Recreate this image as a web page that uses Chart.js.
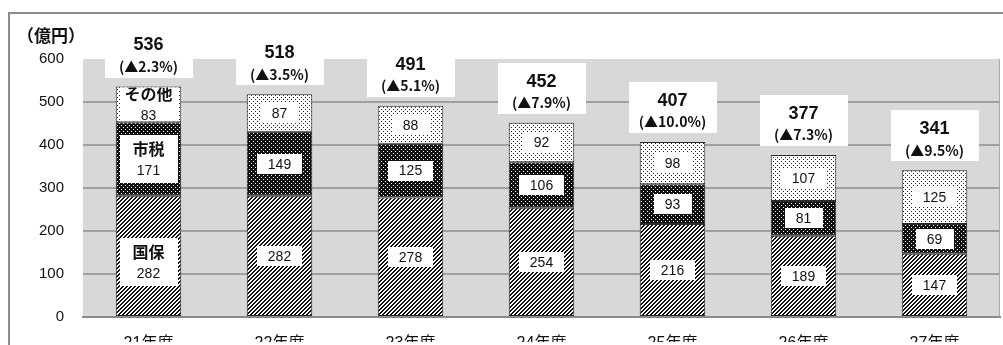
<!DOCTYPE html>
<html>
<head>
<meta charset="utf-8">
<script src="https://cdn.jsdelivr.net/npm/chart.js@4.4.1/dist/chart.umd.min.js"></script>
<style>
    html, body { margin: 0; padding: 0; background: #fff; overflow: hidden; }
    #wrap { width: 1003px; height: 345px; position: relative; }
</style>
</head>
<body>
<div id="wrap"><canvas id="revenueChart"></canvas></div>
<script>
// Fiscal years and revenue breakdown (億円)
const years = ['21年度', '22年度', '23年度', '24年度', '25年度', '26年度', '27年度'];
const seriesNames = ['国保', '市税', 'その他'];
const kokuho = [282, 282, 278, 254, 216, 189, 147];
const shizei = [171, 149, 125, 106, 93, 81, 69];
const sonota = [83, 87, 88, 92, 98, 107, 125];
const totals = [536, 518, 491, 452, 407, 377, 341];
const changes = ['(▲2.3%)', '(▲3.5%)', '(▲5.1%)', '(▲7.9%)', '(▲10.0%)', '(▲7.3%)', '(▲9.5%)'];
const yMax = 600;
const yStep = 100;

const LATIN = '"Liberation Sans", Arial, "Noto Sans CJK JP", sans-serif';

// Small bitmap fills for the bar segments
function makePattern(size, paint) {
    const c = document.createElement('canvas');
    c.width = size; c.height = size;
    const g = c.getContext('2d');
    for (let y = 0; y < size; y++) {
        for (let x = 0; x < size; x++) {
            g.fillStyle = paint(x, y);
            g.fillRect(x, y, 1, 1);
        }
    }
    return g.createPattern(c, 'repeat');
}

const hatch = makePattern(4, (x, y) => ((x + y) % 4 < 2 ? '#111' : '#fff'));
const darkDots = makePattern(4, (x, y) => ((x === 1 && y === 1) || (x === 3 && y === 3) ? '#fff' : '#111'));
const lightDots = makePattern(4, (x, y) => ((x === 1 && y === 1) || (x === 3 && y === 3) ? '#222' : '#fff'));
const plotBg = makePattern(2, (x, y) => ((x + y) % 2 === 0 ? '#dcdcdc' : '#d4d4d4'));

// Frame, axis title and plot background
const backdrop = {
    id: 'backdrop',
    beforeDraw(chart) {
        const { ctx, chartArea: a } = chart;
        ctx.save();
        ctx.fillStyle = '#fff';
        ctx.fillRect(0, 0, chart.width, chart.height);
        ctx.strokeStyle = '#8c8c8c';
        ctx.lineWidth = 2;
        ctx.beginPath();
        ctx.moveTo(9, chart.height);
        ctx.lineTo(9, 13);
        ctx.lineTo(chart.width, 13);
        ctx.stroke();

        ctx.fillStyle = plotBg;
        ctx.fillRect(a.left, a.top, a.right - a.left, a.bottom - a.top);
        ctx.strokeStyle = '#a9a9a9';
        ctx.lineWidth = 1;
        ctx.beginPath();
        ctx.moveTo(a.right - 0.5, a.top);
        ctx.lineTo(a.right - 0.5, a.bottom);
        ctx.stroke();

        ctx.fillStyle = '#111';
        ctx.font = 'bold 17px "Noto Sans CJK JP", sans-serif';
        ctx.textBaseline = 'middle';
        ctx.textAlign = 'left';
        ctx.fillText('（億円）', 17, 36);
        ctx.restore();
    }
};

function whiteBox(ctx, cx, cy, w, h) {
    ctx.fillStyle = '#fff';
    ctx.fillRect(Math.round(cx - w / 2), Math.round(cy - h / 2), Math.round(w), Math.round(h));
}

// Segment values, series names on the first bar, and totals with change rates
const valueLabels = {
    id: 'valueLabels',
    afterDatasetsDraw(chart) {
        const { ctx } = chart;
        ctx.save();
        ctx.textAlign = 'center';
        ctx.textBaseline = 'middle';

        chart.data.datasets.forEach((ds, di) => {
            const meta = chart.getDatasetMeta(di);
            meta.data.forEach((bar, i) => {
                const top = Math.min(bar.y, bar.base);
                const bottom = Math.max(bar.y, bar.base);
                const cy = (top + bottom) / 2;
                const value = String(ds.data[i]);
                ctx.save();
                ctx.beginPath();
                ctx.rect(bar.x - bar.width / 2 + 1, top + 1, bar.width - 2, bottom - top - 2);
                ctx.clip();
                if (i === 0) {
                    const shift = di === 0 ? 6 : 0;
                    whiteBox(ctx, bar.x, cy + shift, bar.width - 8, 48);
                    ctx.fillStyle = '#111';
                    ctx.font = 'bold 16px "Noto Sans CJK JP", sans-serif';
                    ctx.fillText(ds.label, bar.x, cy + shift - 10);
                    ctx.font = '14px ' + LATIN;
                    ctx.fillText(value, bar.x, cy + shift + 12);
                } else {
                    ctx.font = '14px ' + LATIN;
                    const w = Math.max(ctx.measureText(value).width + 22, 38);
                    whiteBox(ctx, bar.x, cy, w, 20);
                    ctx.fillStyle = '#111';
                    ctx.fillText(value, bar.x, cy + 1);
                }
                ctx.restore();
            });
        });

        const topMeta = chart.getDatasetMeta(chart.data.datasets.length - 1);
        topMeta.data.forEach((bar, i) => {
            const boxBottom = bar.y - 9;
            const boxTop = boxBottom - 51;
            whiteBox(ctx, bar.x, (boxTop + boxBottom) / 2, 88, 51);
            ctx.fillStyle = '#111';
            ctx.font = 'bold 18px ' + LATIN;
            ctx.fillText(String(totals[i]), bar.x, boxTop + 19);
            ctx.font = 'bold 14px "Noto Sans CJK JP", sans-serif';
            ctx.fillText(changes[i], bar.x, boxTop + 40);
        });
        ctx.restore();
    }
};

const segmentStyle = {
    borderColor: '#2a2a2a',
    borderWidth: 1,
    borderSkipped: false,
    barPercentage: 0.5,
    categoryPercentage: 1.0
};

new Chart(document.getElementById('revenueChart'), {
    type: 'bar',
    data: {
        labels: years,
        datasets: [
            { label: seriesNames[0], data: kokuho, backgroundColor: hatch, ...segmentStyle },
            { label: seriesNames[1], data: shizei, backgroundColor: darkDots, ...segmentStyle },
            { label: seriesNames[2], data: sonota, backgroundColor: lightDots, ...segmentStyle }
        ]
    },
    options: {
        responsive: true,
        maintainAspectRatio: false,
        animation: false,
        layout: { padding: { top: 59, right: 3, left: 0, bottom: 0 } },
        plugins: {
            legend: { display: false },
            tooltip: { enabled: false }
        },
        scales: {
            x: {
                stacked: true,
                afterFit: (scale) => { scale.height = 25; },
                grid: { display: false },
                border: { display: true, color: '#8a8a8a', width: 2 },
                ticks: {
                    color: '#111',
                    padding: 9,
                    font: { size: 16, family: LATIN }
                }
            },
            y: {
                stacked: true,
                min: 0,
                max: yMax,
                afterFit: (scale) => { scale.width = 83; },
                border: { display: false },
                grid: {
                    drawTicks: false,
                    lineWidth: 2,
                    color: (c) => (c.tick && (c.tick.value === yMax || c.tick.value === 0) ? 'rgba(0,0,0,0)' : '#a0a0a0')
                },
                ticks: {
                    stepSize: yStep,
                    color: '#111',
                    padding: 19,
                    font: { size: 15, family: LATIN }
                }
            }
        }
    },
    plugins: [backdrop, valueLabels]
});
</script>
</body>
</html>
